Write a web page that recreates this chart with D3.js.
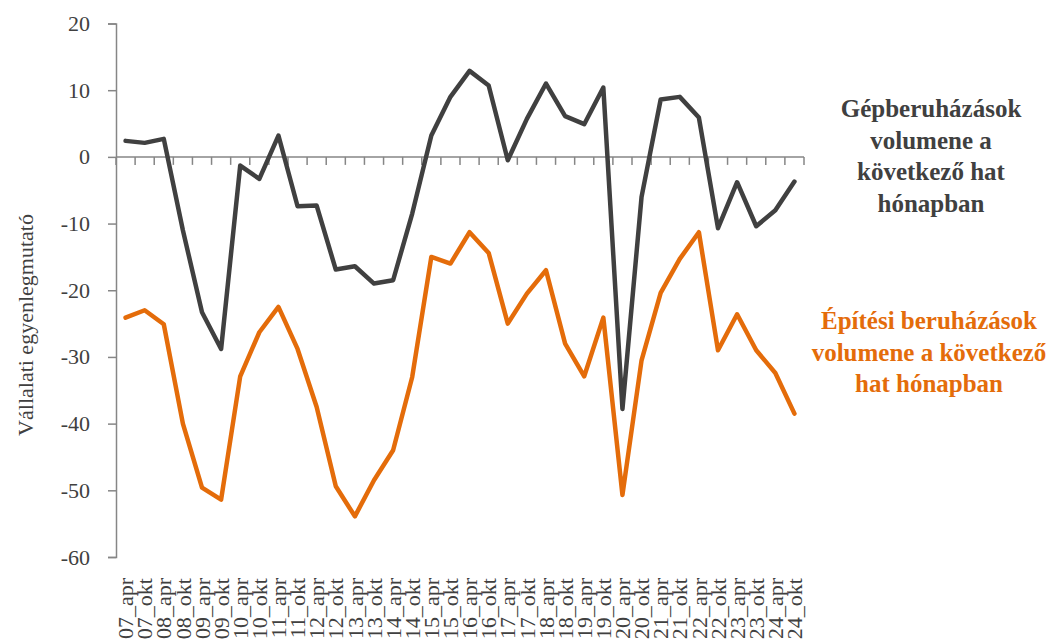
<!DOCTYPE html>
<html>
<head>
<meta charset="utf-8">
<script src="https://cdn.jsdelivr.net/npm/d3@7"></script>
<style>
  body { margin: 0; background: #fff; }
  svg { display: block; font-family: "Liberation Serif", "DejaVu Serif", serif; }
</style>
</head>
<body>
<svg width="1055" height="643"></svg>
<script>
const years = d3.range(7, 25).map(y => String(y).padStart(2, "0"));
const categories = years.flatMap(y => [y + "_apr", y + "_okt"]);

// Gépberuházások volumene a következő hat hónapban
const machinery = [2.4, 2.1, 2.7, -11, -23.3, -28.8, -1.3, -3.3, 3.2, -7.4, -7.3, -16.9,
    -16.4, -19.0, -18.5, -8.5, 3.2, 9.0, 12.9, 10.7, -0.5, 5.7, 11.0, 6.1,
    4.9, 10.4, -37.8, -6.0, 8.6, 9.0, 5.9, -10.7, -3.8, -10.4, -8.0, -3.7];

// Építési beruházások volumene a következő hat hónapban
const construction = [-24.1, -23.0, -25.1, -40.0, -49.6, -51.4, -32.9, -26.3, -22.5, -28.8, -37.5, -49.4,
    -53.9, -48.5, -44.0, -33.0, -15.0, -16.0, -11.3, -14.4, -25.0, -20.5, -17.0, -28.0,
    -32.9, -24.1, -50.7, -30.5, -20.4, -15.3, -11.3, -29.0, -23.6, -29.0, -32.4, -38.5];

const yTicks = [20, 10, 0, -10, -20, -30, -40, -50, -60];

const svg = d3.select("svg");
const axisColor = "#868686";
const textColor = "#404040";

const x = d3.scaleBand()
    .domain(categories)
    .range([116, 804])
    .padding(0);

const y = d3.scaleLinear()
    .domain([-60, 20])
    .range([557, 23.5]);

const cx = d => x(d) + x.bandwidth() / 2;

// y axis
const yAxis = svg.append("g")
    .attr("transform", "translate(116,0)")
    .call(d3.axisLeft(y).tickValues(yTicks).tickSize(8).tickPadding(18).tickFormat(d => String(d)));
yAxis.select(".domain").attr("stroke", axisColor).attr("stroke-width", 1.5);
yAxis.selectAll(".tick line").attr("stroke", axisColor).attr("stroke-width", 1.5);
yAxis.selectAll(".tick text")
    .attr("fill", textColor)
    .style("font-size", "22px")
    .style("font-family", "Liberation Serif, serif");

// category axis on the zero line, ticks between categories
const zeroY = y(0);
const xAxis = svg.append("g");
xAxis.append("line")
    .attr("x1", x.range()[0]).attr("x2", x.range()[1])
    .attr("y1", zeroY).attr("y2", zeroY)
    .attr("stroke", axisColor).attr("stroke-width", 1.5);
const boundaries = categories.map(c => x(c)).concat([x.range()[1]]);
xAxis.selectAll("line.tick")
    .data(boundaries)
    .enter().append("line")
    .attr("class", "tick")
    .attr("x1", d => d).attr("x2", d => d)
    .attr("y1", zeroY).attr("y2", zeroY + 8)
    .attr("stroke", axisColor).attr("stroke-width", 1.5);

// category labels at the bottom
svg.append("g").selectAll("text")
    .data(categories)
    .enter().append("text")
    .attr("transform", d => `translate(${cx(d)},578) rotate(-90)`)
    .attr("dy", "0.35em")
    .attr("text-anchor", "end")
    .attr("fill", textColor)
    .style("font-size", "22px")
    .text(d => d);

// y axis title
svg.append("text")
    .attr("transform", "translate(25,325) rotate(-90)")
    .attr("dy", "0.35em")
    .attr("text-anchor", "middle")
    .attr("fill", textColor)
    .style("font-size", "22px")
    .text("Vállalati egyenlegmutató");

const line = d3.line()
    .x((d, i) => cx(categories[i]))
    .y(d => y(d));

svg.append("path")
    .datum(construction)
    .attr("d", line)
    .attr("fill", "none")
    .attr("stroke", "#E46C0A")
    .attr("stroke-width", 4.5)
    .attr("stroke-linejoin", "round")
    .attr("stroke-linecap", "round");

svg.append("path")
    .datum(machinery)
    .attr("d", line)
    .attr("fill", "none")
    .attr("stroke", "#404040")
    .attr("stroke-width", 4.5)
    .attr("stroke-linejoin", "round")
    .attr("stroke-linecap", "round");

// series labels
const grayLabel = ["Gépberuházások", "volumene a", "következő hat", "hónapban"];
const orangeLabel = ["Építési beruházások", "volumene a következő", "hat hónapban"];

svg.append("text")
    .attr("x", 931).attr("y", 117)
    .attr("text-anchor", "middle")
    .attr("fill", "#404040")
    .style("font-size", "25px")
    .style("font-weight", "bold")
    .selectAll("tspan")
    .data(grayLabel)
    .enter().append("tspan")
    .attr("x", 931)
    .attr("dy", (d, i) => i === 0 ? 0 : 31.7)
    .text(d => d);

svg.append("text")
    .attr("x", 929).attr("y", 329)
    .attr("text-anchor", "middle")
    .attr("fill", "#E46C0A")
    .style("font-size", "25px")
    .style("font-weight", "bold")
    .selectAll("tspan")
    .data(orangeLabel)
    .enter().append("tspan")
    .attr("x", 929)
    .attr("dy", (d, i) => i === 0 ? 0 : 31.5)
    .text(d => d);
</script>
</body>
</html>
